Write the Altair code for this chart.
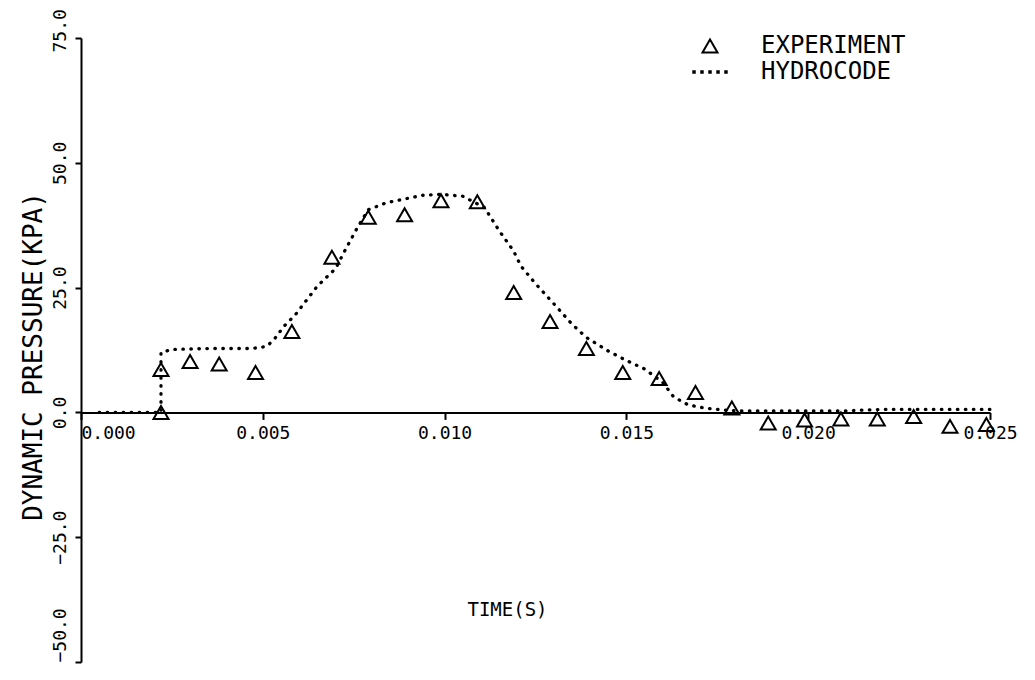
import altair as alt
import pandas as pd

# ---- data ----
exp_t = [0.0022, 0.0022, 0.0030, 0.0038, 0.0048, 0.0058, 0.0069, 0.0079, 0.0089,
         0.0099, 0.0109, 0.0119, 0.0129, 0.0139, 0.0149, 0.0159, 0.0169, 0.0179,
         0.0189, 0.0199, 0.0209, 0.0219, 0.0229, 0.0239, 0.0249]
exp_v = [0.0, 8.6, 10.2, 9.7, 8.0, 16.2, 31.1, 39.1, 39.6,
         42.4, 42.2, 24.0, 18.2, 12.8, 8.0, 6.8, 4.0, 0.9,
         -2.1, -1.5, -1.3, -1.3, -0.8, -2.8, -2.4]

hyd_t = [0.0005, 0.0022, 0.0022, 0.0025, 0.0035, 0.0047, 0.0051, 0.0053, 0.0056,
         0.0059, 0.0065, 0.0070, 0.0073, 0.0076, 0.0079, 0.0084, 0.0090, 0.0094,
         0.0099, 0.0105, 0.0111, 0.0115, 0.0119, 0.0121, 0.0125, 0.0130, 0.0135,
         0.0139, 0.0145, 0.0150, 0.0155, 0.0160, 0.0163, 0.0167, 0.0172, 0.0180,
         0.0210, 0.0220, 0.0250]
hyd_v = [0.0, 0.0, 12.0, 12.6, 12.8, 12.8, 13.2, 14.5, 17.4,
         19.6, 25.3, 28.8, 33.0, 37.0, 40.6, 42.0, 42.9, 43.5,
         43.7, 43.3, 41.0, 36.4, 32.3, 29.3, 25.8, 21.8, 17.7,
         15.0, 12.3, 10.4, 8.7, 6.0, 3.1, 1.5, 0.8, 0.3,
         0.3, 0.6, 0.6]

x_ticks = [0.0, 0.005, 0.010, 0.015, 0.020, 0.025]
y_ticks = [-50, -25, 0, 25, 50, 75]
series_names = ["EXPERIMENT", "HYDROCODE"]

FONT = "DejaVu Sans Mono"
W, H = 909, 624
Y_MIN, Y_MAX = -50, 75
zero_offset = -H * (0 - Y_MIN) / (Y_MAX - Y_MIN)

exp_df = pd.DataFrame({"t": exp_t, "v": exp_v, "series": series_names[0]})
hyd_df = pd.DataFrame({"t": hyd_t, "v": hyd_v, "order": list(range(len(hyd_t)))})

xs = alt.Scale(domain=[0, 0.025], nice=False, zero=False)
ys = alt.Scale(domain=[Y_MIN, Y_MAX], nice=False, zero=False)

x_axis = alt.Axis(
    values=x_ticks, format=".3f", offset=zero_offset, grid=False,
    tickSize=7, tickWidth=2, domainWidth=2, domainColor="black", tickColor="black",
    labelAlign={"condition": {"test": "datum.value == 0", "value": "left"}, "value": "center"},
    labelPadding=5, labelFontSize=18, labelFont=FONT, labelColor="black",
    title="TIME(S)", titleFont=FONT, titleFontSize=19, titleFontWeight="normal",
    titleColor="black", titleX=426, titleY=197, titleAlign="center",
    titleBaseline="middle", titleAngle=0,
)
y_axis = alt.Axis(
    values=y_ticks, format=".1f", grid=False,
    tickSize=6, tickWidth=2, domainWidth=2, domainColor="black", tickColor="black",
    labelAngle=270,
    labelAlign={"condition": {"test": "datum.value == 75 || datum.value == -50",
                              "value": "left"}, "value": "center"},
    labelOffset={"condition": {"test": "datum.value == 75", "value": 14}, "value": 0},
    labelBaseline="alphabetic",
    labelPadding=10, labelFontSize=18, labelFont=FONT, labelColor="black",
    title="DYNAMIC PRESSURE(KPA)", titleFont=FONT, titleFontSize=26,
    titleFontWeight="normal", titleColor="black", titleX=-48, titleY=318,
    titleAngle=270, titleAlign="center", titleBaseline="middle",
)

dots_path = ("M-2.23,-0.1h0.2v0.2h-0.2z M-1.17,-0.1h0.2v0.2h-0.2z "
             "M-0.1,-0.1h0.2v0.2h-0.2z M0.97,-0.1h0.2v0.2h-0.2z "
             "M2.03,-0.1h0.2v0.2h-0.2z")

line = alt.Chart(hyd_df).mark_line(
    color="black", strokeWidth=3.3, strokeDash=[0.5, 7.5], strokeCap="round"
).encode(
    x=alt.X("t:Q", scale=xs, axis=x_axis),
    y=alt.Y("v:Q", scale=ys, axis=y_axis),
    order="order:Q",
)

points = alt.Chart(exp_df).mark_point(
    color="black", filled=False, size=225, strokeWidth=2, opacity=1
).encode(
    x=alt.X("t:Q", scale=xs),
    y=alt.Y("v:Q", scale=ys),
    shape=alt.Shape(
        "series:N",
        scale=alt.Scale(domain=series_names, range=["triangle-up", dots_path]),
        legend=alt.Legend(
            orient="none", legendX=617, legendY=-4, title=None, padding=0,
            labelFont=FONT, labelFontSize=24, labelColor="black",
            labelOffset=39, rowPadding=2, symbolSize=225,
            symbolStrokeColor="black", symbolStrokeWidth=2,
            symbolFillColor="transparent",
        ),
    ),
)

chart = alt.layer(line, points).properties(
    width=W, height=H,
    autosize=alt.AutoSizeParams(type="none"),
    padding={"left": 73, "top": 30, "right": 30, "bottom": 10},
).configure(background="white").configure_view(stroke="transparent", strokeWidth=0)

chart.save("out.html", embed_options={"renderer": "svg", "actions": False})
